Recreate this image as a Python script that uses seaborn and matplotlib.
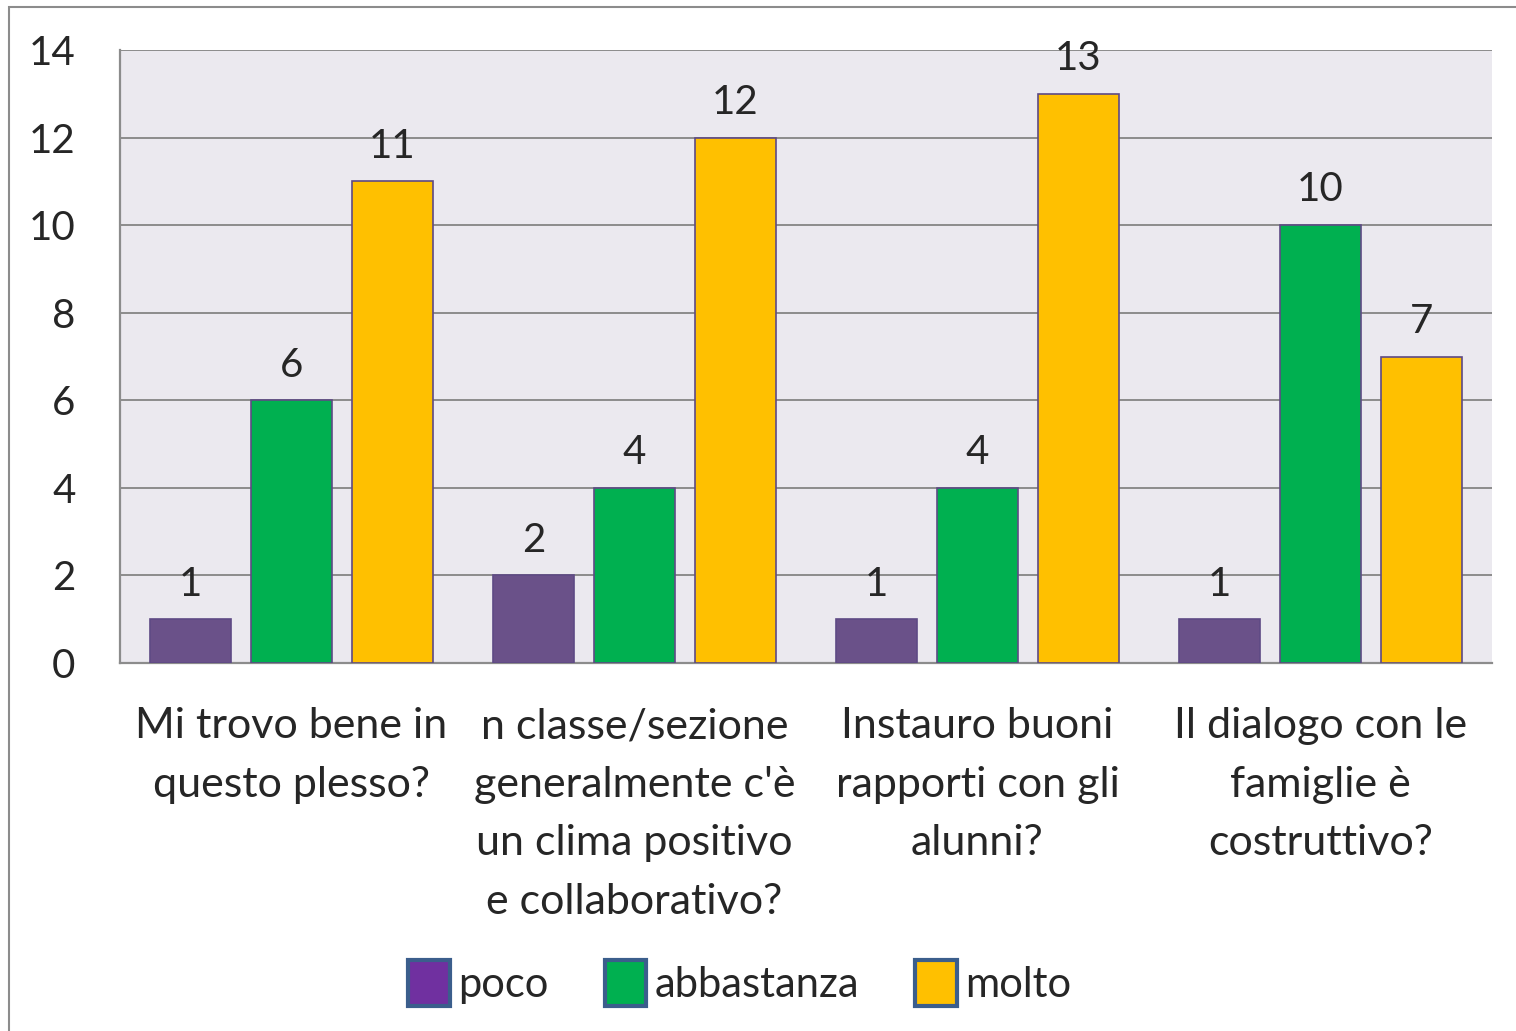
import pandas as pd
import matplotlib
matplotlib.use('Agg')
import matplotlib.pyplot as plt
from matplotlib.patches import Patch, Rectangle
import seaborn as sns

categories = [
    "Mi trovo bene in\nquesto plesso?",
    "n classe/sezione\ngeneralmente c'è\nun clima positivo\ne collaborativo?",
    "Instauro buoni\nrapporti con gli\nalunni?",
    "Il dialogo con le\nfamiglie è\ncostruttivo?",
]
series = ["poco", "abbastanza", "molto"]
poco = [1, 2, 1, 1]
abbastanza = [6, 4, 4, 10]
molto = [11, 12, 13, 7]

bar_colors = ["#6A5189", "#00B050", "#FFC000"]
legend_colors = ["#7030A0", "#00B050", "#FFC000"]

rows = []
for name, vals in zip(series, [poco, abbastanza, molto]):
    for cat, v in zip(categories, vals):
        rows.append({"domanda": cat, "serie": name, "valore": v})
df = pd.DataFrame(rows)

sns.set_style("white")
plt.rcParams['font.family'] = ['Lato', 'DejaVu Sans']

fig = plt.figure(figsize=(15.16, 10.31), dpi=100)
ax = fig.add_axes([120 / 1516, 1 - 663 / 1031, (1492 - 120) / 1516, (663 - 50) / 1031])
ax.set_facecolor("#EBE9EF")

sns.barplot(data=df, x="domanda", y="valore", hue="serie", hue_order=series,
            palette=bar_colors, saturation=1, width=0.883, gap=0.19,
            edgecolor="#5E4A85", linewidth=1.2, legend=False, ax=ax, zorder=3)

for c in ax.containers:
    ax.bar_label(c, padding=12, fontsize=29)

ax.set_ylim(0, 14)
ax.set_yticks(range(0, 15, 2))
ax.set_xlim(-0.5, 3.5)
ax.yaxis.grid(True, color="#8C8C8C", linewidth=1.4, zorder=0)
ax.set_axisbelow(True)
for s in ["top", "right"]:
    ax.spines[s].set_visible(False)
for s in ["left", "bottom"]:
    ax.spines[s].set_color("#8C8C8C")
    ax.spines[s].set_linewidth(1.6)
ax.tick_params(axis="y", length=0, labelsize=29, pad=32)
ax.tick_params(axis="x", length=0, labelsize=31, pad=32)
ax.set_xlabel("")
ax.set_ylabel("")
for lbl in ax.get_xticklabels():
    lbl.set_linespacing(1.66)

handles = [Patch(facecolor=c, edgecolor="#3B5E8C", linewidth=3, label=s)
           for c, s in zip(legend_colors, series)]
fig.legend(handles=handles, loc="center", bbox_to_anchor=(0.488, 1 - 983 / 1031),
           ncol=3, frameon=False, fontsize=30, handlelength=1.0, handleheight=1.3,
           handletextpad=0.2, columnspacing=1.35)

fig.add_artist(Rectangle((9 / 1516, -0.1), 1.2, 1 - 7 / 1031 + 0.1,
                         transform=fig.transFigure, fill=False,
                         edgecolor="#8C8C8C", linewidth=1.5))

fig.savefig("out.png", dpi=100)
